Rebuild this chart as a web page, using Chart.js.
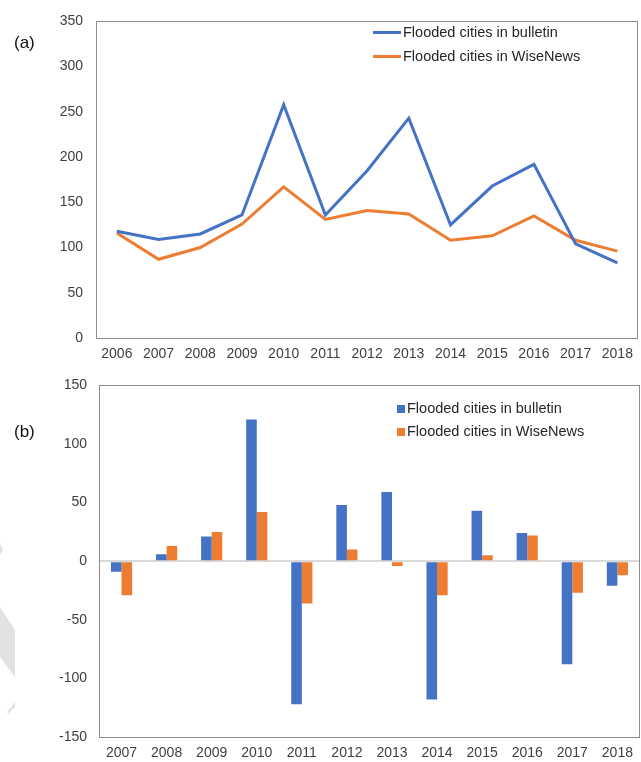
<!DOCTYPE html>
<html>
<head>
<meta charset="utf-8">
<script src="https://cdn.jsdelivr.net/npm/chart.js@4"></script>
<style>
  body { margin: 0; background: #fff; font-family: "Liberation Sans", Arial, sans-serif; }
  #page { position: relative; width: 641px; height: 762px; overflow: hidden; }
  .wm { position: absolute; left: 0; top: 0; }
  .box { position: absolute; left: 0; }
  #boxA { top: 0; }
  #boxB { top: 365px; }
  .tag { position: absolute; font-size: 17px; color: #111; }
  .leg { position: absolute; font-size: 14.5px; color: #262626; white-space: nowrap; }
  .leg div { display: flex; align-items: center; }
  .ln { display: inline-block; width: 28px; height: 3px; margin-right: 2px; }
  .sq { display: inline-block; width: 8px; height: 8px; margin-right: 2px; }
</style>
</head>
<body>
<div id="page">
  <svg class="wm" width="641" height="762">
    <polygon points="0,543 3,550 0,555" fill="#e2e2e2"/>
    <polygon points="0,607 15,630 15,677 0,657" fill="#e2e2e2"/>
    <polygon points="7,712 15,702 15,707 8,714" fill="#e2e2e2"/>
  </svg>
  <div class="box" id="boxA"><canvas id="chartA" width="641" height="365"></canvas></div>
  <div class="box" id="boxB"><canvas id="chartB" width="641" height="397"></canvas></div>
  <div class="tag" style="left:14px; top:33px;">(a)</div>
  <div class="tag" style="left:14px; top:422px;">(b)</div>
  <div class="leg" style="left:373px; top:20px; line-height:24px;">
    <div><span class="ln" style="background:#4472C4"></span>Flooded cities in bulletin</div>
    <div><span class="ln" style="background:#ED7D31"></span>Flooded cities in WiseNews</div>
  </div>
  <div class="leg" style="left:397px; top:397px; line-height:23px;">
    <div><span class="sq" style="background:#4472C4"></span>Flooded cities in bulletin</div>
    <div><span class="sq" style="background:#ED7D31"></span>Flooded cities in WiseNews</div>
  </div>
</div>
<script>
// (a) yearly totals
const years = ['2006', '2007', '2008', '2009', '2010', '2011', '2012', '2013', '2014', '2015', '2016', '2017', '2018']
const bulletin = [118, 109, 115, 136, 258, 136, 185, 243, 125, 168, 192, 104, 83]
const wiseNews = [116, 87, 100, 126, 167, 131, 141, 137, 108, 113, 135, 108, 96]
const yTicksA = [0, 50, 100, 150, 200, 250, 300, 350]

// (b) change from the year before
const changeYears = ['2007', '2008', '2009', '2010', '2011', '2012', '2013', '2014', '2015', '2016', '2017', '2018']
const bulletinChange = [-9, 6, 21, 121, -122, 48, 59, -118, 43, 24, -88, -21]
const wiseNewsChange = [-29, 13, 25, 42, -36, 10, -4, -29, 5, 22, -27, -12]
const yTicksB = [-150, -100, -50, 0, 50, 100, 150]

const BLUE = '#4472C4'
const ORANGE = '#ED7D31'
const tickFont = { family: '"Liberation Sans", Arial, sans-serif', size: 14 }
const tickColor = '#404040'

// gray box round the plot area
const frame = {
    id: 'frame',
    beforeDatasetsDraw(chart) {
        const a = chart.chartArea
        const ctx = chart.ctx
        ctx.save()
        ctx.strokeStyle = '#8c8c8c'
        ctx.lineWidth = 1
        ctx.strokeRect(Math.round(a.left) + 0.5, Math.round(a.top) + 0.5, Math.round(a.right - a.left) - 1, Math.round(a.bottom - a.top))
        ctx.restore()
    }
}

function fixedTicks(list) {
    return function(scale) {
        scale.ticks = list.map(v => ({ value: v }))
    }
}

new Chart(document.getElementById('chartA'), {
    type: 'line',
    data: {
        labels: years,
        datasets: [
            { label: 'Flooded cities in bulletin', data: bulletin, borderColor: BLUE, borderWidth: 3, pointRadius: 0, tension: 0 },
            { label: 'Flooded cities in WiseNews', data: wiseNews, borderColor: ORANGE, borderWidth: 3, pointRadius: 0, tension: 0 }
        ]
    },
    options: {
        responsive: false,
        animation: false,
        devicePixelRatio: 1,
        layout: { padding: { top: 10, right: 2, left: 0, bottom: 0 } },
        plugins: { legend: { display: false }, tooltip: { enabled: false } },
        scales: {
            x: {
                offset: true,
                grid: { display: false, drawTicks: false },
                border: { display: false },
                ticks: { font: tickFont, color: tickColor, padding: 8, maxRotation: 0, autoSkip: false },
                afterFit(scale) { scale.height = 27 }
            },
            y: {
                min: 0, max: 350,
                afterBuildTicks: fixedTicks(yTicksA),
                grid: { display: false, drawTicks: false },
                border: { display: false },
                ticks: { font: tickFont, color: tickColor, padding: 13 },
                afterFit(scale) { scale.width = 96 }
            }
        }
    },
    plugins: [frame]
})

new Chart(document.getElementById('chartB'), {
    type: 'bar',
    data: {
        labels: changeYears,
        datasets: [
            { label: 'Flooded cities in bulletin', data: bulletinChange, backgroundColor: BLUE, barPercentage: 1, categoryPercentage: 0.47 },
            { label: 'Flooded cities in WiseNews', data: wiseNewsChange, backgroundColor: ORANGE, barPercentage: 1, categoryPercentage: 0.47 }
        ]
    },
    options: {
        responsive: false,
        animation: false,
        devicePixelRatio: 1,
        layout: { padding: { top: 19, right: 1, left: 0, bottom: 0 } },
        plugins: { legend: { display: false }, tooltip: { enabled: false } },
        scales: {
            x: {
                grid: { display: false, drawTicks: false },
                border: { display: false },
                ticks: { font: tickFont, color: tickColor, padding: 8, maxRotation: 0, autoSkip: false },
                afterFit(scale) { scale.height = 25 }
            },
            y: {
                min: -150, max: 150,
                afterBuildTicks: fixedTicks(yTicksB),
                grid: {
                    drawTicks: false,
                    color: ctx => ctx.tick && ctx.tick.value === 0 ? '#d9d9d9' : 'rgba(0,0,0,0)',
                    lineWidth: ctx => ctx.tick && ctx.tick.value === 0 ? 2 : 0
                },
                border: { display: false },
                ticks: { font: tickFont, color: tickColor, padding: 12 },
                afterFit(scale) { scale.width = 99 }
            }
        }
    },
    plugins: [frame]
})
</script>
</body>
</html>
